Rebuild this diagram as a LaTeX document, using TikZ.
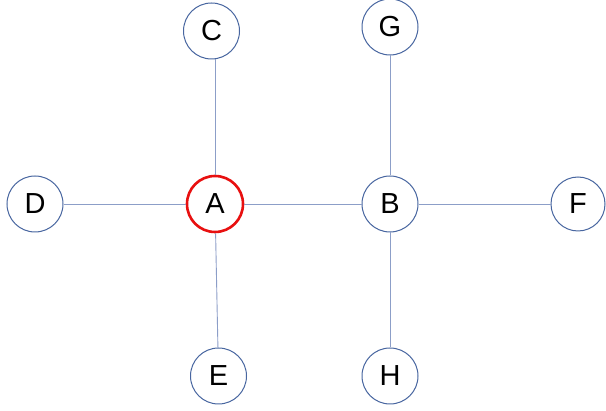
\documentclass[tikz,border=0pt]{standalone}
\usepackage{fontspec}
\setmainfont{Liberation Sans}
\begin{document}
\begin{tikzpicture}[x=1pt,y=-1pt,
  vert/.style={circle,draw=circ,line width=1pt,minimum size=56pt,inner sep=0pt,fill=white,font=\fontsize{29}{31}\selectfont},
  hot/.style={vert,draw=hotred,line width=2.6pt},
  edge/.style={draw=lin,line width=0.9pt}]
\definecolor{circ}{RGB}{72,102,160}
\definecolor{lin}{RGB}{140,158,200}
\definecolor{hotred}{RGB}{232,16,16}
\useasboundingbox (0,0) rectangle (606,411);
\fill[white] (0,0) rectangle (606,411);
\node[vert] (C) at (211.5,31) {C};
\node[vert] (G) at (390,27) {G};
\node[vert] (D) at (35,204) {D};
\node[hot] (A) at (215,204) {A};
\node[vert] (B) at (390,204) {B};
\node[vert,minimum size=54pt] (F) at (578,204) {F};
\node[vert] (E) at (218.5,376) {E};
\node[vert] (H) at (390,376) {H};
\draw[edge] (A.north) -- (A.north |- C.south);
\draw[edge] (D) -- (A);
\draw[edge] (A) -- (B);
\draw[edge] (A) -- (E);
\draw[edge] (G) -- (B);
\draw[edge] (B) -- (F);
\draw[edge] (B) -- (H);
\end{tikzpicture}
\end{document}
